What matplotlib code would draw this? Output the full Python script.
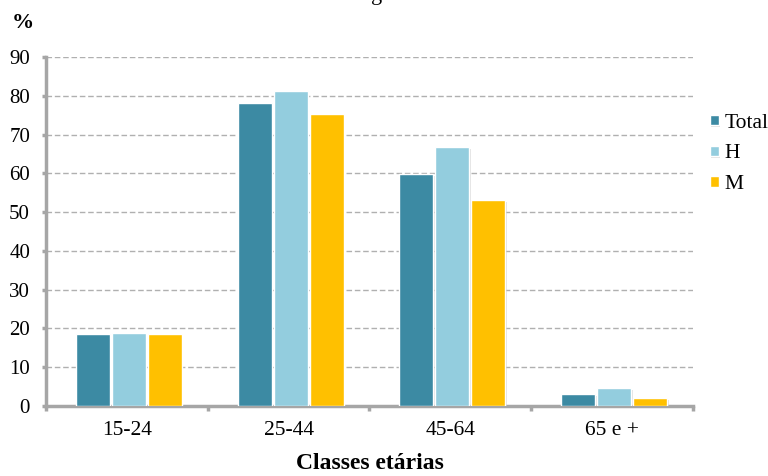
import matplotlib
matplotlib.use("Agg")
import matplotlib.pyplot as plt
import matplotlib.patheffects as pe
import numpy as np

plt.rcParams['font.family'] = ['Liberation Serif', 'DejaVu Serif']

categories = ["15-24", "25-44", "45-64", "65 e +"]
series_names = ["Total", "H", "M"]
total = [18.7, 78.2, 59.8, 3.1]
homens = [18.8, 81.3, 66.8, 4.6]
mulheres = [18.6, 75.2, 53.1, 2.0]
colors = ["#3C8AA3", "#93CDDE", "#FFC000"]
yticks = [0, 10, 20, 30, 40, 50, 60, 70, 80, 90]

fig = plt.figure(figsize=(7.68, 4.76), dpi=100)
ax = fig.add_axes([0.0599, 0.147, 0.8424, 0.733])

x = np.arange(len(categories)) + 0.012
width = 0.21
gap = 0.0126
offsets = [-(width + gap), 0, width + gap]
shadow = [pe.SimplePatchShadow(offset=(1.2, -1.2), shadow_rgbFace="#c4c4c4", alpha=0.5), pe.Normal()]
for vals, off, col, name in zip([total, homens, mulheres], offsets, colors, series_names):
    bars = ax.bar(x + off, vals, width=width, color=col, edgecolor="white",
                  linewidth=1.0, label=name, zorder=3)
    for b in bars:
        b.set_path_effects(shadow)

ax.set_xlim(-0.5, len(categories) - 0.5)
ax.set_ylim(0, 90)
ax.set_yticks(yticks)
ax.set_yticklabels([str(t) for t in yticks], fontsize=15)
ax.set_xticks(np.arange(len(categories)))
ax.set_xticklabels(categories, fontsize=15.5)
ax.set_xticks(np.arange(len(categories) + 1) - 0.5, minor=True)
ax.tick_params(axis="x", which="major", length=0, pad=11)
ax.tick_params(axis="x", which="minor", length=3.5, width=2.5, color="#A6A6A6", direction="out")
ax.tick_params(axis="y", length=3, width=2.5, color="#A6A6A6", direction="out", pad=8.5)

for t in yticks[1:]:
    ax.axhline(t, color="#B0B0B0", linestyle=(0, (4, 2)), linewidth=1.0, zorder=1)

for side in ["top", "right"]:
    ax.spines[side].set_visible(False)
for side in ["left", "bottom"]:
    ax.spines[side].set_color("#A6A6A6")
    ax.spines[side].set_linewidth(2.5)

ax.set_xlabel("Classes etárias", fontsize=17, fontweight="bold", labelpad=9)
fig.text(0.030, 0.952, "%", fontsize=16, fontweight="bold", ha="center", va="center")
fig.text(0.49, 1.0, "g", fontsize=16, ha="center", va="baseline")

leg = ax.legend(loc="upper left", bbox_to_anchor=(1.026, 0.838), frameon=False,
                fontsize=15.5, handlelength=0.42, handleheight=0.36, handletextpad=0.25,
                labelspacing=0.55, borderaxespad=0, borderpad=0)

fig.savefig("out.png", dpi=100)
